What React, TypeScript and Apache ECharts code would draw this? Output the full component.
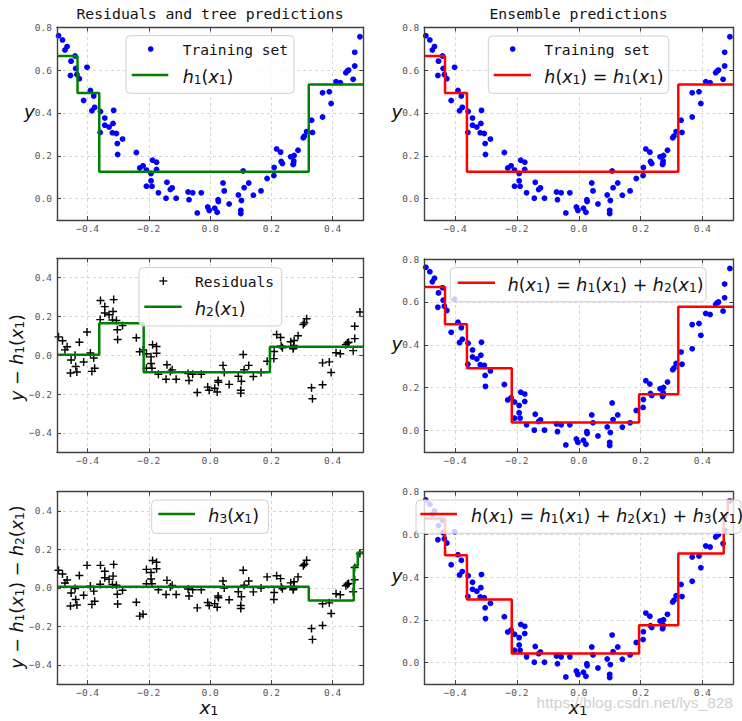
import React, { useEffect, useRef } from 'react';
import * as echarts from 'echarts';

// ---- training data ----
const X = [-0.495,-0.482,-0.474,-0.467,-0.456,-0.454,-0.441,-0.439,-0.435,-0.427,-0.413,-0.402,-0.391,-0.386,-0.380,-0.377,-0.359,-0.358,-0.344,-0.344,-0.330,-0.319,-0.317,-0.315,-0.306,-0.303,-0.302,-0.286,-0.241,-0.230,-0.219,-0.208,-0.208,-0.193,-0.193,-0.190,-0.188,-0.175,-0.175,-0.169,-0.144,-0.141,-0.130,-0.124,-0.111,-0.072,-0.069,-0.057,-0.042,-0.029,-0.008,-0.003,0.015,0.023,0.026,0.027,0.042,0.046,0.062,0.092,0.100,0.100,0.102,0.108,0.111,0.126,0.141,0.166,0.186,0.208,0.209,0.217,0.230,0.232,0.236,0.263,0.271,0.272,0.273,0.274,0.287,0.304,0.308,0.315,0.331,0.334,0.367,0.367,0.389,0.395,0.411,0.425,0.443,0.448,0.452,0.467,0.472,0.472,0.489];
const Y = [0.761,0.741,0.694,0.710,0.575,0.642,0.666,0.608,0.580,0.560,0.458,0.613,0.505,0.410,0.479,0.426,0.309,0.407,0.376,0.343,0.334,0.307,0.351,0.412,0.304,0.257,0.206,0.278,0.215,0.143,0.153,0.133,0.058,0.117,0.083,0.058,0.179,0.170,0.136,0.027,0.002,0.076,0.042,0.050,0.002,0.031,-0.005,0.027,-0.067,0.027,-0.039,-0.055,-0.045,-0.064,-0.005,-0.014,0.073,0.036,-0.025,0.017,-0.055,-0.070,-0.009,0.129,0.051,0.073,0.016,0.036,0.094,0.108,0.145,0.232,0.217,0.173,0.164,0.195,0.159,0.164,0.176,0.201,0.226,0.284,0.292,0.313,0.366,0.309,0.381,0.494,0.499,0.444,0.546,0.541,0.588,0.596,0.600,0.557,0.619,0.683,0.756];

// ---- regression trees (thresholds and leaf values) ----
const h1Thresholds = [-0.433, -0.362, 0.322];
const h1Values = [0.666, 0.493, 0.125, 0.533];
const h2Thresholds = [-0.362, -0.217, 0.195];
const h2Values = [0.003, 0.165, -0.088, 0.044];
const h3Thresholds = [0.322, 0.469, 0.482];
const h3Values = [0.006, -0.066, 0.115, 0.184];

// ---- ticks ----
const xTicks = [-0.4, -0.2, 0, 0.2, 0.4];
const yTicksY = [0, 0.2, 0.4, 0.6, 0.8];
const yTicksRes = [-0.4, -0.2, 0, 0.2, 0.4];

type Tree = { th: number[]; vals: number[] };
const tree1: Tree = { th: h1Thresholds, vals: h1Values };
const tree2: Tree = { th: h2Thresholds, vals: h2Values };
const tree3: Tree = { th: h3Thresholds, vals: h3Values };

function predict(t: Tree, x: number) {
  let i = 0;
  while (i < t.th.length && x >= t.th[i]) i++;
  return t.vals[i];
}
function ensemble(trees: Tree[], x: number) {
  return trees.reduce((s, t) => s + predict(t, x), 0);
}
function stepLine(trees: Tree[]) {
  const ths = Array.from(new Set(trees.flatMap((t) => t.th))).sort((a, b) => a - b);
  const pts: number[][] = [[-0.5, ensemble(trees, -0.5)]];
  for (const t of ths) {
    pts.push([t, ensemble(trees, t - 1e-9)]);
    pts.push([t, ensemble(trees, t)]);
  }
  pts.push([0.5, ensemble(trees, 0.5)]);
  return pts;
}

const trainPts = X.map((x, i) => [x, Y[i]]);
const res1Pts = X.map((x, i) => [x, Y[i] - predict(tree1, x)]);
const res2Pts = X.map((x, i) => [x, Y[i] - predict(tree1, x) - predict(tree2, x)]);

const MONO = 'DejaVu Sans Mono';
const MATH = 'DejaVu Sans';
const FRAME = '#404040';
const PLUS = 'path://M0,0.41H1V0.59H0Z M0.41,0H0.59V1H0.41Z';

const grids = [
  { left: 57, top: 27.3, width: 306.3, height: 192.7 },
  { left: 424.3, top: 27.3, width: 309, height: 192.7 },
  { left: 57, top: 258.3, width: 306.3, height: 194 },
  { left: 424.3, top: 259, width: 309, height: 193 },
  { left: 57, top: 491.7, width: 306.3, height: 192.3 },
  { left: 424.3, top: 491.7, width: 309, height: 192.3 },
];
const yRanges = [
  [-0.1, 0.8, yTicksY], [-0.1, 0.8, yTicksY],
  [-0.5, 0.5, yTicksRes], [-0.1, 0.8, yTicksY],
  [-0.5, 0.5, yTicksRes], [-0.1, 0.8, yTicksY],
] as [number, number, number[]][];

const fmt = (v: number) => (v < -1e-9 ? '\u2212' : '') + Math.abs(v).toFixed(1);

function axis(gridIndex: number, min: number, max: number, ticks: number[], position: string, showLabel: boolean, margin: number) {
  return {
    type: 'value', gridIndex, min, max, position, z: 10,
    axisLine: { show: true, onZero: false, lineStyle: { color: FRAME, width: 1.4 } },
    axisTick: { show: true, inside: true, length: 4, customValues: ticks, lineStyle: { color: FRAME, width: 1 } },
    axisLabel: {
      show: showLabel, customValues: ticks, formatter: (v: number) => fmt(v), margin,
      fontFamily: MONO, fontSize: 9.5, color: '#555', hideOverlap: false,
    },
    splitLine: { show: false },
  };
}

const INK = '#111111';
const mathRich = (fs: number) => ({
  i: { fontFamily: MATH, fontStyle: 'italic', fontSize: fs, lineHeight: fs * 1.3, verticalAlign: 'bottom', fill: INK },
  n: { fontFamily: MATH, fontSize: fs, lineHeight: fs * 1.3, verticalAlign: 'bottom', fill: INK },
  s: { fontFamily: MATH, fontSize: fs * 0.7, lineHeight: fs * 0.62, verticalAlign: 'bottom', fill: INK },
});
const H = (k: string) => `{i|h}{s|${k}}{n|(}{i|x}{s|1}{n|)}`;
const HX = '{i|h}{n|(}{i|x}{s|1}{n|)}';

function mathText(x: number, y: number, text: string, fs: number, extra: any = {}) {
  const { align, ...rest } = extra;
  return {
    type: 'text', x, y, z: 100, ...rest,
    style: { text, rich: mathRich(fs), fill: INK, align: align || 'left', verticalAlign: 'middle' },
  };
}
function italicY(x: number, y: number) {
  return {
    type: 'text', x, y, z: 100,
    style: { text: 'y', fontFamily: MATH, fontStyle: 'italic', fontSize: 18.5, fill: INK, align: 'center', verticalAlign: 'middle' },
  };
}
function plainText(x: number, y: number, text: string, fs: number, font = MONO, color = INK, align = 'left') {
  return {
    type: 'text', x, y, z: 100,
    style: { text, fontFamily: font, fontSize: fs, fill: color, align, verticalAlign: 'middle' },
  };
}
function box(x: number, y: number, w: number, h: number) {
  return {
    type: 'rect', z: 90, shape: { x, y, width: w, height: h, r: 4 },
    style: { fill: 'rgba(255,255,255,0.8)', stroke: '#cfcfcf', lineWidth: 1 },
  };
}
function seg(x1: number, x2: number, y: number, color: string) {
  return { type: 'line', z: 100, shape: { x1, y1: y, x2, y2: y }, style: { stroke: color, lineWidth: 2.5 } };
}
function dot(x: number, y: number) {
  return { type: 'circle', z: 100, shape: { cx: x, cy: y, r: 2.8 }, style: { fill: '#0000ff' } };
}
function plus(x: number, y: number) {
  return {
    type: 'group',
    children: [
      { type: 'line', z: 100, shape: { x1: x - 4, y1: y, x2: x + 4, y2: y }, style: { stroke: '#000', lineWidth: 1.3 } },
      { type: 'line', z: 100, shape: { x1: x, y1: y - 4, x2: x, y2: y + 4 }, style: { stroke: '#000', lineWidth: 1.3 } },
    ],
  };
}

const FS = 17.5;

export default function App() {
  const ref = useRef<HTMLDivElement>(null);
  useEffect(() => {
    if (!ref.current) return;
    const chart = echarts.init(ref.current, undefined, { renderer: 'svg' });

    const xAxes: any[] = [];
    const yAxes: any[] = [];
    grids.forEach((g, i) => {
      const [ymin, ymax, yt] = yRanges[i];
      xAxes.push(axis(i, -0.5, 0.5, xTicks, 'bottom', true, 3));
      xAxes.push(axis(i, -0.5, 0.5, xTicks, 'top', false, 3));
      yAxes.push(axis(i, ymin, ymax, yt, 'left', true, 5));
      yAxes.push(axis(i, ymin, ymax, yt, 'right', false, 5));
    });

    const gridLines = (yt: number[]) => ({
      silent: true, z: 1, symbol: ['none', 'none'], label: { show: false },
      lineStyle: { type: [3, 3], color: '#cccccc', width: 0.8 },
      emphasis: { disabled: true },
      data: [...xTicks.map((v) => ({ xAxis: v })), ...yt.map((v) => ({ yAxis: v }))],
    });

    const scatterBlue = (i: number) => ({
      type: 'scatter', xAxisIndex: 2 * i, yAxisIndex: 2 * i, data: trainPts, z: 3,
      symbol: 'circle', symbolSize: 5.8, itemStyle: { color: '#0000ff', opacity: 1 }, markLine: gridLines(yRanges[i][2]),
    });
    const scatterPlus = (i: number, d: number[][]) => ({
      type: 'scatter', xAxisIndex: 2 * i, yAxisIndex: 2 * i, data: d, z: 3,
      symbol: PLUS, symbolSize: 8, itemStyle: { color: '#000', opacity: 1 }, markLine: gridLines(yRanges[i][2]),
    });
    const stepSeries = (i: number, trees: Tree[], color: string) => ({
      type: 'line', xAxisIndex: 2 * i, yAxisIndex: 2 * i, data: stepLine(trees), z: 4,
      showSymbol: false, symbol: 'none', lineStyle: { color, width: 2.5 },
    });

    const series = [
      scatterBlue(0), stepSeries(0, [tree1], '#008000'),
      scatterBlue(1), stepSeries(1, [tree1], '#ff0000'),
      scatterPlus(2, res1Pts), stepSeries(2, [tree2], '#008000'),
      scatterBlue(3), stepSeries(3, [tree1, tree2], '#ff0000'),
      scatterPlus(4, res2Pts), stepSeries(4, [tree3], '#008000'),
      scatterBlue(5), stepSeries(5, [tree1, tree2, tree3], '#ff0000'),
    ];

    const graphic: any[] = [
      plainText(210, 13.5, 'Residuals and tree predictions', 14.8, MONO, INK, 'center'),
      plainText(578.5, 13.5, 'Ensemble predictions', 14.8, MONO, INK, 'center'),
      // axis names
      italicY(29.5, 111),
      italicY(397, 111),
      italicY(397, 343),
      italicY(397, 575),
      mathText(15, 357.5, `{i|y}{n| \u2212 }${H('1')}`, FS, { align: 'center', rotation: Math.PI / 2 }),
      mathText(15, 587, `{i|y}{n| \u2212 }${H('1')}{n| \u2212 }${H('2')}`, FS, { align: 'center', rotation: Math.PI / 2 }),
      mathText(209, 705, '{i|x}{s|1}', FS + 1, { align: 'center' }),
      mathText(578, 705, '{i|x}{s|1}', FS + 1, { align: 'center' }),
      // legend row1 left
      box(126, 35.7, 168, 57.6), dot(150.7, 49), plainText(182.7, 49, 'Training set', 14.6),
      seg(131.7, 168.3, 75, '#008000'), mathText(182.7, 75, H('1'), FS),
      // legend row1 right
      box(488.3, 36, 180.4, 57.3), dot(512.7, 49), plainText(544.3, 49, 'Training set', 14.6),
      seg(493.7, 531, 75, '#ff0000'), mathText(544.3, 75, `${HX}{n| = }${H('1')}`, FS),
      // legend row2 left
      box(139, 267.7, 142.7, 58.3), plus(163.3, 281), plainText(195, 281, 'Residuals', 14.6),
      seg(144.3, 181.7, 306.7, '#008000'), mathText(195, 306.7, H('2'), FS),
      // legend row2 right
      box(450.3, 267.7, 255.7, 34), seg(457.7, 495, 282.7, '#ff0000'),
      mathText(507.7, 282.7, `${HX}{n| = }${H('1')}{n| + }${H('2')}`, FS),
      // legend row3 left
      box(151.7, 500, 116.6, 33.3), seg(158.3, 195, 514, '#008000'), mathText(208.3, 514, H('3'), FS),
      // legend row3 right
      box(416, 500, 325, 33.3), seg(420.3, 457, 514, '#ff0000'),
      mathText(471, 514, `${HX}{n| = }${H('1')}{n| + }${H('2')}{n| + }${H('3')}`, FS),
      // watermark
      {
        type: 'text', x: 733, y: 702, z: 110,
        style: { text: 'https://blog.csdn.net/lys_828', fontFamily: 'Liberation Sans', fontSize: 15.5, fill: 'rgba(190,190,190,0.75)', align: 'right', verticalAlign: 'middle' },
      },
    ];

    chart.setOption({
      animation: false,
      backgroundColor: '#ffffff',
      grid: grids.map((g) => ({ ...g, containLabel: false, outerBoundsMode: 'none' })),
      xAxis: xAxes,
      yAxis: yAxes,
      series,
      graphic,
    });
    return () => chart.dispose();
  }, []);
  return <div ref={ref} style={{ position: 'fixed', left: 0, top: 0, width: 742, height: 721 }} />;
}
